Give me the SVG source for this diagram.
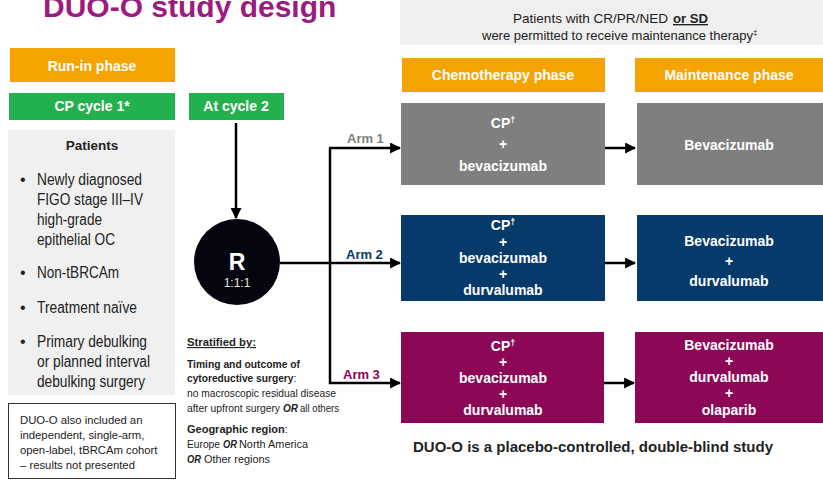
<svg xmlns="http://www.w3.org/2000/svg" width="823" height="481" viewBox="0 0 823 481">
<defs>
<marker id="ah" viewBox="0 0 10 10" refX="9" refY="5" markerWidth="4.4" markerHeight="4.4" orient="auto" markerUnits="strokeWidth">
<path d="M0,0 L10,5 L0,10 Z" fill="#000"/>
</marker>
<style>
text{font-family:"Liberation Sans",Arial,sans-serif;}
.w{fill:#fff;font-weight:bold;font-size:14px;text-anchor:middle;}
.hdr{fill:#fff;font-weight:bold;font-size:14px;text-anchor:middle;}
.bl{fill:#222;font-size:16px;}
.conn{stroke:#000;stroke-width:2.5;fill:none;}
.st{fill:#222;font-size:10.5px;}
.sb{font-weight:bold;}
.bi{font-weight:bold;font-style:italic;}
.arm{font-weight:bold;font-size:13px;}
</style>
</defs>
<rect width="823" height="481" fill="#fff"/>

<text id="title" x="43" y="17" font-size="30" font-weight="bold" fill="#9B1B80">DUO-O study design</text>

<g id="note-top">
<rect x="400" y="0" width="423" height="45" fill="#EFEFEF"/>
<text x="513" y="23" font-size="13.5" fill="#222" textLength="155" lengthAdjust="spacingAndGlyphs">Patients with CR/PR/NED</text>
<text x="673" y="23" font-size="13.5" font-weight="bold" fill="#222" text-decoration="underline" textLength="35" lengthAdjust="spacingAndGlyphs">or SD</text>
<text x="482" y="40" font-size="13" fill="#222">were permitted to receive maintenance therapy<tspan font-size="8" dy="-5">‡</tspan></text>
</g>

<g id="run-in">
<rect x="10" y="48" width="165" height="34" fill="#F5A300"/>
<text class="hdr" x="92" y="71">Run-in phase</text>
</g>
<g id="cp-cycle1">
<rect x="9" y="93" width="166" height="27" fill="#23B14D"/>
<text class="hdr" x="92" y="111">CP cycle 1*</text>
</g>
<g id="at-cycle2">
<rect x="189" y="93" width="95" height="27" fill="#23B14D"/>
<text class="hdr" x="236" y="111">At cycle 2</text>
</g>

<g id="patients">
<rect x="8" y="130" width="167" height="265" fill="#F0F0F0"/>
<text x="92" y="150" font-size="13.5" font-weight="bold" fill="#222" text-anchor="middle">Patients</text>
<g class="bl">
<text x="20" y="185">•</text>
<text x="37" y="185" textLength="105" lengthAdjust="spacingAndGlyphs">Newly diagnosed</text>
<text x="37" y="205" textLength="106" lengthAdjust="spacingAndGlyphs">FIGO stage III–IV</text>
<text x="37" y="225" textLength="65" lengthAdjust="spacingAndGlyphs">high-grade</text>
<text x="37" y="245" textLength="78" lengthAdjust="spacingAndGlyphs">epithelial OC</text>
<text x="20" y="278">•</text>
<text x="37" y="278" textLength="82" lengthAdjust="spacingAndGlyphs">Non-tBRCAm</text>
<text x="20" y="313">•</text>
<text x="37" y="313" textLength="100" lengthAdjust="spacingAndGlyphs">Treatment naïve</text>
<text x="20" y="347">•</text>
<text x="37" y="347" textLength="110" lengthAdjust="spacingAndGlyphs">Primary debulking</text>
<text x="37" y="367" textLength="113" lengthAdjust="spacingAndGlyphs">or planned interval</text>
<text x="37" y="387" textLength="108" lengthAdjust="spacingAndGlyphs">debulking surgery</text>
</g>
</g>

<g id="cohort-note">
<rect x="8.5" y="403.5" width="167" height="75" fill="#fff" stroke="#333" stroke-width="1"/>
<g font-size="11.3" fill="#222">
<text x="20" y="424">DUO-O also included an</text>
<text x="20" y="439">independent, single-arm,</text>
<text x="20" y="454">open-label, tBRCAm cohort</text>
<text x="20" y="469">– results not presented</text>
</g>
</g>

<g id="randomisation">
<circle cx="237" cy="262" r="43" fill="#05050F"/>
<text x="237" y="270" font-size="23" font-weight="bold" fill="#fff" text-anchor="middle">R</text>
<text x="237" y="287" font-size="12" fill="#EEEADA" text-anchor="middle">1:1:1</text>
</g>

<g id="stratification" class="st">
<text x="187" y="346" font-size="11.5" font-weight="bold" text-decoration="underline" textLength="69" lengthAdjust="spacingAndGlyphs">Stratified by:</text>
<text x="187" y="368" class="sb" textLength="113" lengthAdjust="spacingAndGlyphs">Timing and outcome of</text>
<text x="187" y="382" font-size="10.2"><tspan class="sb">cytoreductive surgery</tspan>:</text>
<text x="187" y="397" textLength="149" lengthAdjust="spacingAndGlyphs">no macroscopic residual disease</text>
<text x="187" y="412" textLength="93" lengthAdjust="spacingAndGlyphs">after upfront surgery</text>
<text x="283" y="412" class="bi" textLength="15" lengthAdjust="spacingAndGlyphs">OR</text>
<text x="300" y="412" textLength="39" lengthAdjust="spacingAndGlyphs">all others</text>
<text x="187" y="433" font-size="11"><tspan class="sb">Geographic region</tspan>:</text>
<text x="187" y="448" textLength="33" lengthAdjust="spacingAndGlyphs">Europe</text>
<text x="223" y="448" class="bi" textLength="14" lengthAdjust="spacingAndGlyphs">OR</text>
<text x="239" y="448" textLength="69" lengthAdjust="spacingAndGlyphs">North America</text>
<text x="187" y="463" class="bi" textLength="14" lengthAdjust="spacingAndGlyphs">OR</text>
<text x="204" y="463" textLength="66" lengthAdjust="spacingAndGlyphs">Other regions</text>
</g>

<g id="chemo-header">
<rect x="402" y="58" width="203" height="34" fill="#F5A300"/>
<text class="hdr" x="503" y="80">Chemotherapy phase</text>
</g>
<g id="maint-header">
<rect x="635" y="58" width="188" height="34" fill="#F5A300"/>
<text class="hdr" x="729" y="80">Maintenance phase</text>
</g>

<g id="arm1-chemo">
<rect x="401" y="103" width="204" height="82" fill="#7F7F7F"/>
<text class="w" x="503" y="128">CP<tspan font-size="9" dy="-5">†</tspan></text>
<text class="w" x="503" y="149">+</text>
<text class="w" x="503" y="171">bevacizumab</text>
</g>
<g id="arm1-maint">
<rect x="637" y="103" width="186" height="82" fill="#7F7F7F"/>
<text class="w" x="729" y="150">Bevacizumab</text>
</g>

<g id="arm2-chemo">
<rect x="401" y="215" width="204" height="86" fill="#063A6B"/>
<text class="w" x="503" y="230">CP<tspan font-size="9" dy="-5">†</tspan></text>
<text class="w" x="503" y="247">+</text>
<text class="w" x="503" y="263">bevacizumab</text>
<text class="w" x="503" y="279">+</text>
<text class="w" x="503" y="295">durvalumab</text>
</g>
<g id="arm2-maint">
<rect x="637" y="215" width="186" height="86" fill="#063A6B"/>
<text class="w" x="729" y="246">Bevacizumab</text>
<text class="w" x="729" y="266">+</text>
<text class="w" x="729" y="286">durvalumab</text>
</g>

<g id="arm3-chemo">
<rect x="401" y="332" width="203" height="91" fill="#8C0856"/>
<text class="w" x="503" y="351">CP<tspan font-size="9" dy="-5">†</tspan></text>
<text class="w" x="503" y="367">+</text>
<text class="w" x="503" y="383">bevacizumab</text>
<text class="w" x="503" y="399">+</text>
<text class="w" x="503" y="415">durvalumab</text>
</g>
<g id="arm3-maint">
<rect x="635" y="332" width="188" height="91" fill="#8C0856"/>
<text class="w" x="729" y="350">Bevacizumab</text>
<text class="w" x="729" y="366">+</text>
<text class="w" x="729" y="382">durvalumab</text>
<text class="w" x="729" y="398">+</text>
<text class="w" x="729" y="415">olaparib</text>
</g>

<g id="connectors">
<line class="conn" x1="236" y1="123" x2="236" y2="218" marker-end="url(#ah)"/>
<line class="conn" x1="280" y1="263" x2="400" y2="263" marker-end="url(#ah)"/>
<polyline class="conn" points="330,148 330,383 400,383" marker-end="url(#ah)"/>
<line class="conn" x1="329" y1="148" x2="400" y2="148" marker-end="url(#ah)"/>
<line class="conn" x1="605" y1="148" x2="635" y2="148" marker-end="url(#ah)"/>
<line class="conn" x1="605" y1="263" x2="635" y2="263" marker-end="url(#ah)"/>
<line class="conn" x1="604" y1="383" x2="634" y2="383" marker-end="url(#ah)"/>
<text class="arm" x="347" y="143" fill="#808080">Arm 1</text>
<text class="arm" x="346" y="259" fill="#063A6B">Arm 2</text>
<text class="arm" x="343" y="379" fill="#8C0856">Arm 3</text>
</g>

<text id="footer" x="413" y="452" font-size="14" font-weight="bold" fill="#222" textLength="360" lengthAdjust="spacingAndGlyphs">DUO-O is a placebo-controlled, double-blind study</text>
</svg>
